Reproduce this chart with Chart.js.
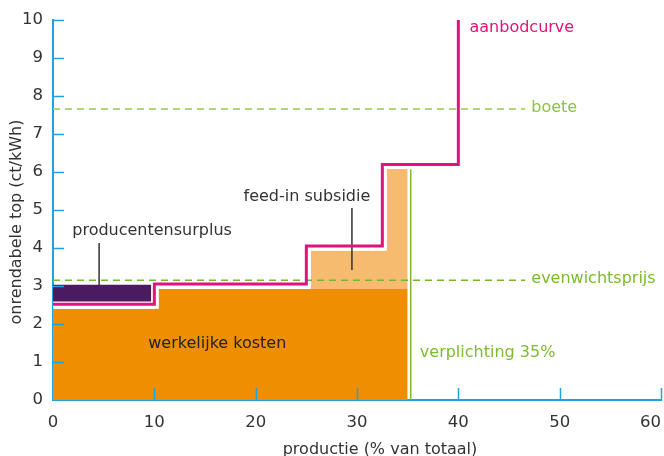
<!DOCTYPE html>
<html><head><meta charset="utf-8">
<script src="https://cdn.jsdelivr.net/npm/chart.js@4/dist/chart.umd.min.js"></script>
<style>html,body{margin:0;padding:0;background:#fff;}canvas{display:block;}</style>
</head><body>
<canvas id="c" width="664" height="456"></canvas>
<script>
// ---- data ----
const xTickValues = [0, 10, 20, 30, 40, 50, 60];
const yTickValues = [0, 1, 2, 3, 4, 5, 6, 7, 8, 9, 10];

// aanbodcurve (supply curve) corner points
const supplyX = [0, 10, 10, 25, 25, 32.5, 32.5, 40, 40];
const supplyY = [2.52, 2.52, 3.05, 3.05, 4.05, 4.05, 6.2, 6.2, 10];

// werkelijke kosten (actual costs)
const costX = [0, 10, 10, 35];
const costY = [2.4, 2.4, 2.92, 2.92];

// feed-in subsidie block
const subsidyX = [25.4, 32.9, 32.9, 35];
const subsidyY = [3.93, 3.93, 6.08, 6.08];
const subsidyBase = 2.92;

// producentensurplus block
const surplusX = [0, 9.7];
const surplusY = [3.03, 3.03];
const surplusBase = 2.59;

// reference levels
const boeteLevel = 7.66;
const equilibriumLevel = 3.15;
const dashedLineX = [0, 46.6];
const obligationX = [35.3, 35.3];
const obligationY = [0, 6.07];

// pointer lines of the labels
const pointer1X = [4.55, 4.55];
const pointer1Y = [4.13, 2.84];
const pointer2X = [29.5, 29.5];
const pointer2Y = [5.05, 3.42];

const labels = [
  {text: 'aanbodcurve', x: 41.1, y: 9.79, color: '#e3127d'},
  {text: 'boete', x: 47.2, y: 7.7, color: '#8cc43f'},
  {text: 'evenwichtsprijs', x: 47.2, y: 3.2, color: '#7cbb2c'},
  {text: 'verplichting 35%', x: 36.2, y: 1.24, color: '#7cbb2c'},
  {text: 'producentensurplus', x: 1.9, y: 4.45, color: '#333333'},
  {text: 'feed-in subsidie', x: 18.8, y: 5.35, color: '#333333'},
  {text: 'werkelijke kosten', x: 9.4, y: 1.49, color: '#222222'}
];

// ---- helpers ----
const pts = (xs, ys) => xs.map((x, i) => ({x: x, y: ys[i]}));
const flat = (xs, v) => xs.map(x => ({x: x, y: v}));

const FONT = "'DejaVu Sans', Verdana, sans-serif";
const AXIS = '#1ea2e2';

const base = {showLine: true, pointRadius: 0, pointHoverRadius: 0, borderJoinStyle: 'miter', borderCapStyle: 'butt', tension: 0};

// dataset 0 is drawn on top, the last one at the bottom
const datasets = [
  Object.assign({}, base, {label: 'aanbodcurve', data: pts(supplyX, supplyY), borderColor: '#e3127d', borderWidth: 3, fill: false}),
  Object.assign({}, base, {label: 'evenwichtsprijs', data: flat(dashedLineX, equilibriumLevel), borderColor: '#74b72e', borderWidth: 1.5, borderDash: [7, 5], fill: false}),
  Object.assign({}, base, {label: 'boete', data: flat(dashedLineX, boeteLevel), borderColor: '#96ca50', borderWidth: 1.5, borderDash: [7, 5], fill: false}),
  Object.assign({}, base, {label: 'producentensurplus', data: pts(surplusX, surplusY), borderWidth: 0, borderColor: 'rgba(0,0,0,0)', backgroundColor: '#4a1b61', fill: {value: surplusBase}}),
  Object.assign({}, base, {label: 'pointer1', data: pts(pointer1X, pointer1Y), borderColor: '#333', borderWidth: 1.5, fill: false}),
  Object.assign({}, base, {label: 'pointer2', data: pts(pointer2X, pointer2Y), borderColor: '#333', borderWidth: 1.5, fill: false}),
  Object.assign({}, base, {label: 'halo', data: pts(supplyX, supplyY), borderColor: '#ffffff', borderWidth: 9, fill: false}),
  Object.assign({}, base, {label: 'verplichting', data: pts(obligationX, obligationY), borderColor: '#7cb82f', borderWidth: 1.5, fill: false}),
  Object.assign({}, base, {label: 'feed-in subsidie', data: pts(subsidyX, subsidyY), borderWidth: 0, borderColor: 'rgba(0,0,0,0)', backgroundColor: '#f6bb6e', fill: {value: subsidyBase}}),
  Object.assign({}, base, {label: 'werkelijke kosten', data: pts(costX, costY), borderWidth: 0, borderColor: 'rgba(0,0,0,0)', backgroundColor: '#ee8e00', fill: 'origin'})
];

const decorations = {
  id: 'decorations',
  afterDraw(chart) {
    const ctx = chart.ctx, xs = chart.scales.x, ys = chart.scales.y, a = chart.chartArea;
    ctx.save();
    // inward tick marks
    ctx.strokeStyle = AXIS; ctx.lineWidth = 1.5;
    yTickValues.forEach(v => {
      if (v === 0) return;
      const y = Math.round(ys.getPixelForValue(v)) + 0.5;
      ctx.beginPath(); ctx.moveTo(a.left, y); ctx.lineTo(a.left + 11, y); ctx.stroke();
    });
    xTickValues.forEach(v => {
      if (v === 0) return;
      const x = Math.round(xs.getPixelForValue(v)) + 0.5;
      ctx.beginPath(); ctx.moveTo(x, a.bottom); ctx.lineTo(x, a.bottom - 12); ctx.stroke();
    });
    // annotation texts
    ctx.font = '16px ' + FONT;
    ctx.textAlign = 'left'; ctx.textBaseline = 'middle';
    labels.forEach(l => {
      ctx.fillStyle = l.color;
      ctx.fillText(l.text, xs.getPixelForValue(l.x), ys.getPixelForValue(l.y));
    });
    // axis titles
    ctx.fillStyle = '#333';
    ctx.textAlign = 'center';
    ctx.fillText('productie (% van totaal)', 380, 450);
    ctx.translate(17, 222);
    ctx.rotate(-Math.PI / 2);
    ctx.fillText('onrendabele top (ct/kWh)', 0, 0);
    ctx.restore();
  }
};

new Chart(document.getElementById('c'), {
  type: 'scatter',
  data: {datasets: datasets},
  options: {
    responsive: false,
    animation: false,
    layout: {padding: {top: 20, right: 3, left: 0, bottom: 0}},
    plugins: {legend: {display: false}, tooltip: {enabled: false}},
    scales: {
      x: {
        type: 'linear', min: 0, max: 60, z: 1,
        afterBuildTicks: s => { s.ticks = xTickValues.map(v => ({value: v})); },
        afterFit: s => { s.height = 56; s.paddingRight = 0; s.paddingLeft = 0; },
        border: {display: true, color: AXIS, width: 2},
        grid: {display: true, drawOnChartArea: false, drawTicks: false, color: AXIS},
        ticks: {
          padding: 13, color: '#333', font: {family: FONT, size: 16.5},
          maxRotation: 0, autoSkip: false,
          callback: v => v === 60 ? '60\u2007\u2007' : String(v)
        }
      },
      y: {
        type: 'linear', min: 0, max: 10, z: 1,
        afterBuildTicks: s => { s.ticks = yTickValues.map(v => ({value: v})); },
        afterFit: s => { s.width = 53; s.paddingTop = 0; s.paddingBottom = 0; },
        border: {display: true, color: AXIS, width: 2},
        grid: {display: true, drawOnChartArea: false, drawTicks: false, color: AXIS},
        ticks: {padding: 10, color: '#333', font: {family: FONT, size: 16.5}, autoSkip: false}
      }
    }
  },
  plugins: [decorations]
});
</script>
</body></html>
